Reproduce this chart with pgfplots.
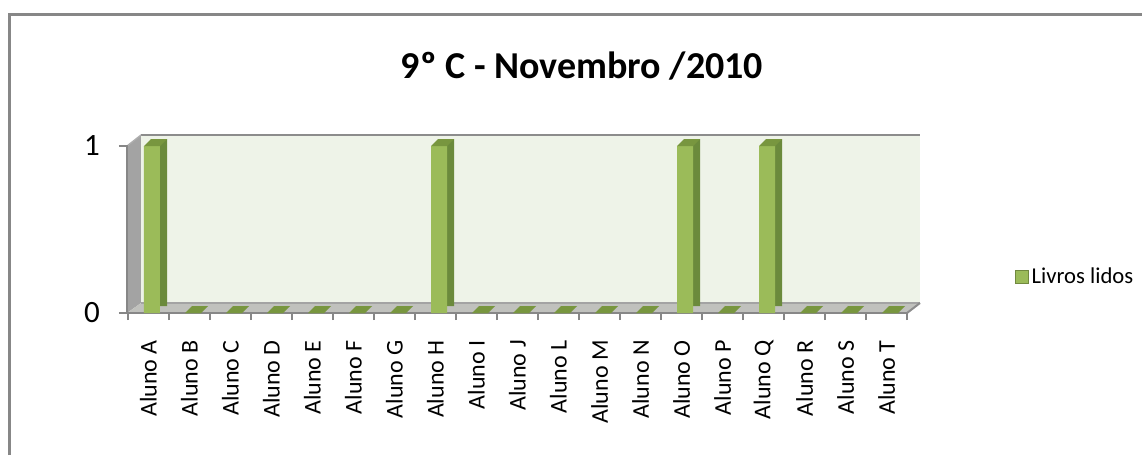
\documentclass[border=0pt]{standalone}
\usepackage{pgfplots}
\pgfplotsset{compat=1.18}
\usepackage{pgfplotstable}
\usepackage{fontspec}
\setmainfont{Carlito}
\definecolor{wallcol}{HTML}{EEF3E8}
\definecolor{leftwall}{HTML}{A3A3A3}
\definecolor{floorcol}{HTML}{C0C1BD}
\definecolor{edgegray}{HTML}{8C8C8C}
\definecolor{axisgray}{HTML}{878787}
\definecolor{frontcol}{HTML}{9BBB59}
\definecolor{sidecol}{HTML}{6B8A3C}
\definecolor{topcol}{HTML}{78963F}
\definecolor{legedge}{HTML}{71893F}

\pgfdeclareplotmark{topface}{%
  \pgfpathmoveto{\pgfpoint{-3.375pt}{0pt}}%
  \pgfpathlineto{\pgfpoint{8.625pt}{0pt}}%
  \pgfpathlineto{\pgfpoint{13.875pt}{5.25pt}}%
  \pgfpathlineto{\pgfpoint{1.875pt}{5.25pt}}%
  \pgfpathclose\pgfusepathqfill}

\pgfplotstableread{
x y
0 1
1 0
2 0
3 0
4 0
5 0
6 0
7 1
8 0
9 0
10 0
11 0
12 0
13 1
14 0
15 1
16 0
17 0
18 0
}\datatbl

\begin{document}
\begin{tikzpicture}
\begin{scope}[x=0.75pt,y=-0.75pt,shift={(-96pt,234.75pt)}]
  \useasboundingbox (0,0) rectangle (1142,455);
  \fill[white] (0,0) rectangle (1142,455);
  % outer border
  \draw[axisgray, line width=1.75pt] (9.5,455) -- (9.5,14.5) -- (1142,14.5);
  % back wall
  \fill[wallcol] (141,135) rectangle (920,303);
  % left wall
  \fill[leftwall] (127,146) -- (141,135) -- (141,303) -- (127,313) -- cycle;
  % floor
  \fill[floorcol] (127,313) -- (141,303) -- (920,303) -- (907,313) -- cycle;
  \draw[edgegray!80, line width=1pt] (141,303) -- (920,303);
  \draw[edgegray, line width=1.5pt] (907,313) -- (920,303);
  \draw[edgegray, line width=2pt] (141,135) -- (920,135);
  \draw[edgegray!70, line width=1pt] (127,146) -- (141,135);
  % front axis lines
  \draw[axisgray, line width=2.2pt] (127,313) -- (907,313);
  \draw[axisgray, line width=1.5pt] (127.5,146) -- (127.5,313);
  % title
  \node[anchor=base, inner sep=0pt, font=\fontsize{28.5}{30}\selectfont\bfseries] at (582,78) {9º C - Novembro /2010};
\end{scope}

\begin{axis}[
  at={(0,0)}, anchor=south west,
  scale only axis, width=584.25pt, height=125.25pt,
  xmin=-0.5, xmax=18.5, ymin=0, ymax=1,
  clip=false,
  axis line style={draw=none},
  tick pos=left, tick align=outside,
  xtick={0,...,18},
  xticklabels={Aluno A,Aluno B,Aluno C,Aluno D,Aluno E,Aluno F,Aluno G,Aluno H,Aluno I,Aluno J,Aluno L,Aluno M,Aluno N,Aluno O,Aluno P,Aluno Q,Aluno R,Aluno S,Aluno T},
  minor xtick={-0.5,0.5,...,18.5},
  major tick length=6.75pt,
  minor tick length=5.25pt,
  major x tick style={draw=none},
  minor x tick style={draw=axisgray, line width=1.5pt},
  ytick={0,1},
  ytick style={draw=axisgray, line width=1.5pt},
  /pgf/number format/assume math mode=true,
  xticklabel style={font=\fontsize{18}{19}\selectfont, rotate=90, anchor=east, inner sep=0pt},
  yticklabel style={font=\fontsize{23.25}{24}\selectfont, inner sep=0pt},
  xticklabel shift=13.5pt,
  yticklabel shift=14.25pt,
  legend style={at={(1.1386,0.216)}, anchor=west, draw=none, fill=none, inner sep=0pt,
    font=\fontsize{17}{18}\selectfont},
  legend cell align=left,
]
\addplot[ybar, bar width=12pt, bar shift=7.875pt, fill=sidecol, draw=none, yshift=5.25pt, forget plot]
  table[x=x,y=y]{\datatbl};
\addplot[ybar, bar width=12pt, bar shift=2.625pt, fill=frontcol, draw=none,
  legend image code/.code={\draw[draw=legedge, fill=frontcol, line width=0.6pt] (0pt,-4.875pt) rectangle (9.75pt,4.875pt);}]
  table[x=x,y=y]{\datatbl};
\addlegendentry{Livros lidos}
\addplot[only marks, mark=topface, mark options={fill=topcol, draw=none}, forget plot]
  table[x=x,y=y]{\datatbl};
\end{axis}
\end{tikzpicture}
\end{document}
